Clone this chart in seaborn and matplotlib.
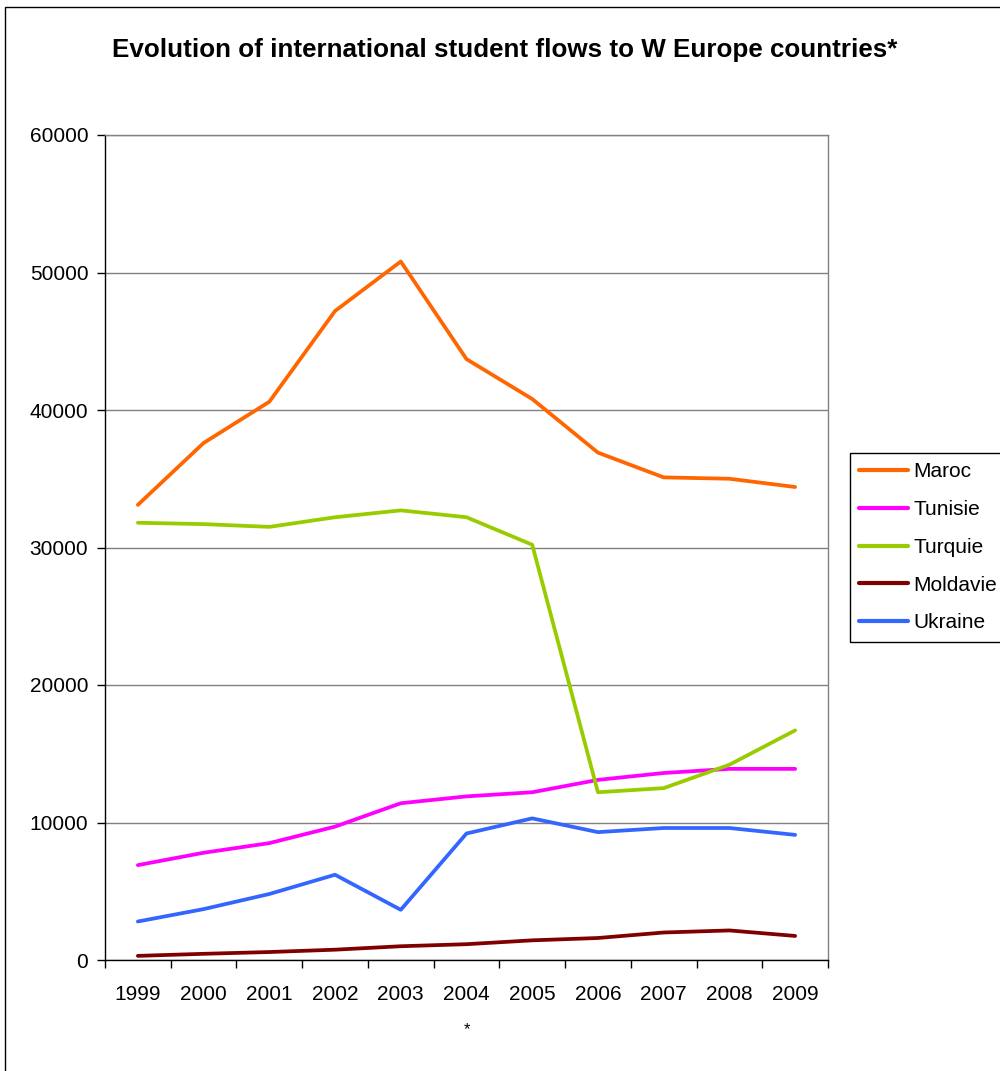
import matplotlib
matplotlib.use("Agg")
import matplotlib.pyplot as plt
from matplotlib.patches import Rectangle
from matplotlib.ticker import FixedLocator, NullFormatter, FixedFormatter
import seaborn as sns
import pandas as pd
import numpy as np

# Student flows per origin country, 1999-2009
years = ["1999", "2000", "2001", "2002", "2003", "2004", "2005", "2006", "2007", "2008", "2009"]
maroc = [33100, 37600, 40600, 47200, 50800, 43700, 40800, 36900, 35100, 35000, 34400]
tunisie = [6900, 7800, 8500, 9700, 11400, 11900, 12200, 13100, 13600, 13900, 13900]
turquie = [31800, 31700, 31500, 32200, 32700, 32200, 30200, 12200, 12500, 14200, 16700]
moldavie = [300, 450, 580, 750, 1000, 1150, 1430, 1600, 2000, 2150, 1750]
ukraine = [2800, 3700, 4800, 6200, 3650, 9200, 10300, 9300, 9600, 9600, 9100]

countries = ["Maroc", "Tunisie", "Turquie", "Moldavie", "Ukraine"]
series = [maroc, tunisie, turquie, moldavie, ukraine]
colors = ["#FF6600", "#FF00FF", "#99CC00", "#800000", "#3366FF"]
y_ticks = [0, 10000, 20000, 30000, 40000, 50000, 60000]

rows = []
for name, vals in zip(countries, series):
    for i, v in enumerate(vals):
        rows.append({"pos": i, "year": years[i], "country": name, "value": v})
df = pd.DataFrame(rows)

sns.set_style("white")
plt.rcParams["font.family"] = ["Liberation Sans", "DejaVu Sans"]
plt.rcParams["text.color"] = "black"
plt.rcParams["axes.labelcolor"] = "black"
plt.rcParams["xtick.color"] = "black"
plt.rcParams["ytick.color"] = "black"

fig = plt.figure(figsize=(10, 10.71), dpi=100)
ax = fig.add_axes([0.105, 1 - 960 / 1071, 0.723, (960 - 135) / 1071])

sns.lineplot(data=df, x="pos", y="value", hue="country", hue_order=countries,
             palette=colors, linewidth=2.7, ax=ax, legend=True, sort=False)

ax.set_xlim(-0.5, len(years) - 0.5)
ax.set_ylim(0, 60000)

# category boundaries carry the tick marks, centres carry the labels
ax.xaxis.set_major_locator(FixedLocator(np.arange(-0.5, len(years), 1.0)))
ax.xaxis.set_major_formatter(NullFormatter())
ax.xaxis.set_minor_locator(FixedLocator(np.arange(len(years))))
ax.xaxis.set_minor_formatter(FixedFormatter(years))
ax.tick_params(axis="x", which="major", direction="out", length=6, width=1, color="black", bottom=True)
ax.tick_params(axis="x", which="minor", length=0, pad=18, labelsize=15, labelcolor="black")

ax.set_yticks(y_ticks)
ax.set_yticklabels([str(t) for t in y_ticks])
ax.tick_params(axis="y", direction="out", length=6, width=1, color="black", left=True, pad=6,
               labelsize=15, labelcolor="black")

ax.grid(axis="y", color="#808080", linewidth=1.0)
ax.grid(axis="x", visible=False)
ax.set_axisbelow(True)

for side in ["left", "bottom"]:
    ax.spines[side].set_color("black")
    ax.spines[side].set_linewidth(1.0)
for side in ["top", "right"]:
    ax.spines[side].set_color("#808080")
    ax.spines[side].set_linewidth(1.0)

ax.set_ylabel("")
ax.set_xlabel("*", fontsize=12, labelpad=13, color="black")

handles, labels = ax.get_legend_handles_labels()
ax.legend(handles, labels, loc="upper left", bbox_to_anchor=(850 / 1000, 1 - 453 / 1071),
          bbox_transform=fig.transFigure, fontsize=15, frameon=True, fancybox=False,
          edgecolor="black", framealpha=1, handlelength=2.35, handletextpad=0.25,
          borderpad=0.45, labelspacing=0.9, borderaxespad=0)
leg = ax.get_legend()
leg.get_frame().set_linewidth(1.0)
for line in leg.get_lines():
    line.set_linewidth(3.0)
for t in leg.get_texts():
    t.set_color("black")

fig.text(0.505, 1 - 50 / 1071, "Evolution of international student flows to W Europe countries*",
         ha="center", va="center", fontsize=18.7, fontweight="bold", color="black")

# outer chart border
fig.patches.append(Rectangle((5 / 1000, -0.05), 1.2, 1 - 7 / 1071 + 0.05,
                             transform=fig.transFigure, fill=False,
                             edgecolor="black", linewidth=1.0))

fig.savefig("out.png", dpi=100, facecolor="white")
